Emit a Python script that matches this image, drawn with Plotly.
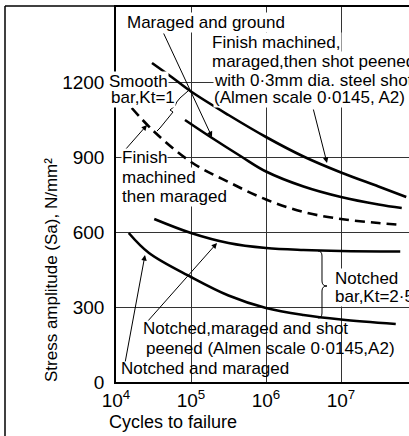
import plotly.graph_objects as go

# Fatigue (S-N) curves for maraging steel: log10(cycles to failure) and stress amplitude (N/mm²)
peened_logn = [4.48, 4.75, 5.0, 5.5, 6.0, 6.5, 7.0, 7.5, 7.87]
peened_sa = [1276, 1218, 1162, 1068, 980, 902, 838, 782, 740]

ground_logn = [4.92, 5.25, 5.68, 6.0, 6.5, 7.0, 7.5, 7.81]
ground_sa = [1048, 982, 900, 842, 782, 740, 710, 696]

machined_logn = [4.21, 4.5, 5.0, 5.5, 6.0, 6.5, 7.0, 7.5, 7.81]
machined_sa = [1096, 1004, 880, 800, 730, 680, 652, 636, 628]

notched_peened_logn = [4.51, 5.0, 5.5, 6.0, 6.5, 7.0, 7.79]
notched_peened_sa = [652, 596, 556, 536, 528, 524, 522]

notched_logn = [4.17, 4.44, 5.0, 5.5, 6.0, 6.5, 7.0, 7.73]
notched_sa = [596, 516, 420, 346, 296, 268, 250, 232]

y_ticks = [0, 300, 600, 900, 1200]
x_exponents = [4, 5, 6, 7]

FONT = "Liberation Sans, Arial, sans-serif"

# plot-area geometry (pixels) used to place labels and decorations
W, H = 409, 436
L, T = 116, 7
PW, PH = W - L, 375


def px(x):
    return (x - L) / PW


def py(y):
    return (T + PH - y) / PH


def path(cmds):
    out = []
    for c, pts in cmds:
        out.append(c + " " + " ".join(f"{px(a):.5f},{py(b):.5f}" for a, b in pts))
    return " ".join(out)


fig = go.Figure()

solid = dict(color="black", width=2.6)
for xs, ys, ln in [
    (peened_logn, peened_sa, solid),
    (ground_logn, ground_sa, solid),
    (machined_logn, machined_sa, dict(color="black", width=2.6, dash="10px,6px")),
    (notched_peened_logn, notched_peened_sa, solid),
    (notched_logn, notched_sa, solid),
]:
    fig.add_trace(go.Scatter(
        x=[10 ** v for v in xs], y=ys, mode="lines",
        line=dict(shape="spline", smoothing=1.0, **ln),
        hoverinfo="skip", showlegend=False,
    ))

# text labels: (text, left x, centre y, white background)
labels = [
    ("Maraged and ground", 126, 22, True),
    ("Finish machined,", 211, 43, True),
    ("maraged,then shot peened", 211, 62, True),
    ("with 0·3mm dia. steel shot", 213, 80, True),
    ("(Almen scale 0·0145, A2)", 213, 97, True),
    ("Smooth", 108, 82, True),
    ("bar,Kt=1", 110, 97, True),
    ("Finish", 121, 158, True),
    ("machined", 121, 178, True),
    ("then maraged", 121, 197, True),
    ("Notched", 334, 278, True),
    ("bar,Kt=2·5", 334, 296, True),
    ("Notched,maraged and shot", 142, 328, False),
    ("peened (Almen scale 0·0145,A2)", 145, 348, False),
    ("Notched and maraged", 120, 368, False),
]
annotations = []
for text, x, y, bg in labels:
    annotations.append(dict(
        text=text, xref="paper", yref="paper", x=px(x), y=py(y),
        xanchor="left", yanchor="middle", showarrow=False,
        font=dict(family=FONT, size=17, color="black"),
        bgcolor="white" if bg else "rgba(0,0,0,0)", borderpad=0,
    ))

# leader arrows: (tail x, tail y, head x, head y)
arrows = [
    (163, 32, 212, 137),
    (313, 108, 327, 163),
    (125, 150, 147, 125),
    (147, 322, 217, 243),
    (125, 363, 145, 255),
]
for tx, ty, hx, hy in arrows:
    annotations.append(dict(
        text="", xref="paper", yref="paper", x=px(hx), y=py(hy),
        ax=tx - hx, ay=ty - hy, showarrow=True,
        arrowhead=2, arrowsize=1.1, arrowwidth=1, arrowcolor="black", standoff=0,
    ))

annotations.append(dict(
    text="Stress amplitude (Sa), N/mm²", textangle=-90,
    xref="paper", yref="paper", x=px(51), y=py(270),
    xanchor="center", yanchor="middle", showarrow=False,
    font=dict(family=FONT, size=17, color="black"),
))
annotations.append(dict(
    text="Cycles to failure", xref="paper", yref="paper", x=px(107), y=py(422),
    xanchor="left", yanchor="middle", showarrow=False,
    font=dict(family=FONT, size=18, color="black"),
))

shapes = [
    # outer frame (left and top)
    dict(type="line", xref="paper", yref="paper", x0=px(5), x1=px(5), y0=py(440), y1=py(6),
         line=dict(color="black", width=1.5)),
    dict(type="line", xref="paper", yref="paper", x0=px(5), x1=px(L), y0=py(6), y1=py(6),
         line=dict(color="black", width=1.5)),
    # brace grouping the smooth-bar curves
    dict(type="path", xref="paper", yref="paper", line=dict(color="black", width=1),
         path=path([("M", [(188, 91)]), ("L", [(180, 98)]), ("Q", [(176, 102), (175, 106)]),
                    ("L", [(170, 110)]), ("L", [(173, 112)]), ("L", [(160, 128)]), ("L", [(157, 131)])])),
    # brace grouping the notched-bar curves
    dict(type="path", xref="paper", yref="paper", line=dict(color="black", width=1),
         path=path([("M", [(318, 251)]), ("Q", [(322, 251), (322, 256)]), ("L", [(322, 281)]),
                    ("Q", [(322, 286), (327, 286)]), ("Q", [(322, 286), (322, 291)]),
                    ("L", [(322, 313)]), ("Q", [(322, 318), (318, 318)])])),
]

fig.update_layout(
    width=W, height=H,
    margin=dict(l=L, r=0, t=T, b=H - T - PH),
    paper_bgcolor="white", plot_bgcolor="white",
    showlegend=False,
    annotations=annotations,
    shapes=shapes,
    font=dict(family=FONT, color="black"),
)
fig.update_xaxes(
    type="log", range=[4, 4 + PW / 75],
    tickvals=[10 ** e for e in x_exponents],
    ticktext=[f"10<sup>{e}</sup>" for e in x_exponents],
    tickfont=dict(family=FONT, size=19, color="black"),
    showgrid=True, gridcolor="#333", gridwidth=1,
    showline=True, linecolor="black", linewidth=1.5, mirror=True,
    ticks="", zeroline=False,
)
fig.update_yaxes(
    range=[0, 1500], tickvals=y_ticks,
    tickfont=dict(family=FONT, size=19, color="black"),
    showgrid=True, gridcolor="#333", gridwidth=1,
    showline=True, linecolor="black", linewidth=1.5,
    ticks="", zeroline=False, ticklabelstandoff=6,
)

fig.write_html("out.html")
